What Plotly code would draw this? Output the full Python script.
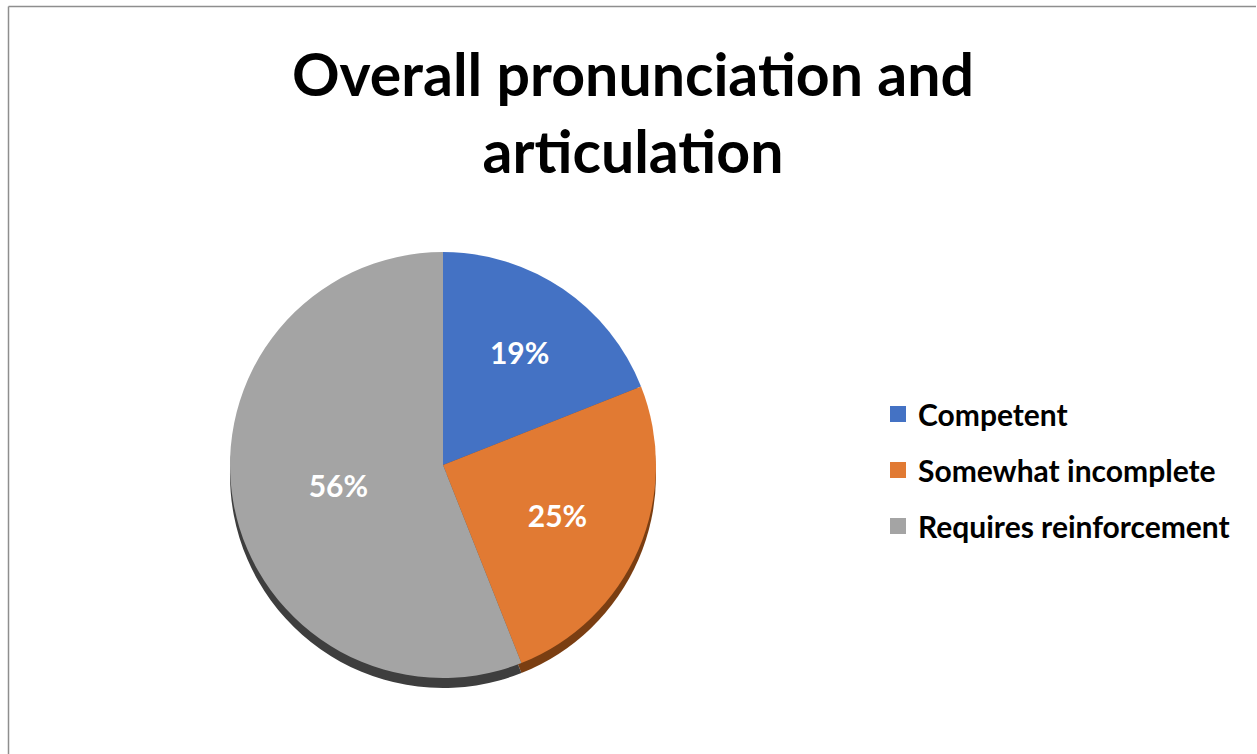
import plotly.graph_objects as go

# Survey results: overall pronunciation and articulation
categories = ["Competent", "Somewhat incomplete", "Requires reinforcement"]
shares = [19, 25, 56]
slice_colors = ["#4472C4", "#E17A33", "#A4A4A4"]
edge_colors = ["#2B4A80", "#7A3E12", "#3E3E3E"]

W, H = 1257, 754
cx, cy, r = 443, 465, 213   # pie centre / radius in pixels (y from top)
depth = 10                  # thickness of the darker rim under the pie


def dom(cx, cy, r):
    return dict(x=[(cx - r) / W, (cx + r) / W],
                y=[(H - cy - r) / H, (H - cy + r) / H])


fig = go.Figure()

# darker copy slightly lower, giving the pie its bottom rim
fig.add_trace(go.Pie(
    labels=categories, values=shares, sort=False, direction="clockwise",
    rotation=0, marker=dict(colors=edge_colors, line=dict(width=0)),
    textinfo="none", hoverinfo="skip", showlegend=False,
    domain=dom(cx, cy + depth, r),
))

fig.add_trace(go.Pie(
    labels=categories, values=shares, sort=False, direction="clockwise",
    rotation=0, marker=dict(colors=slice_colors, line=dict(width=0)),
    textinfo="percent", textposition="inside", insidetextorientation="horizontal",
    texttemplate="%{percent:.0%}",
    textfont=dict(family="Lato", size=30, color="white", weight="bold"),
    showlegend=False, domain=dom(cx, cy, r),
))

# legend entries, one per category
for name, col in zip(categories, slice_colors):
    fig.add_trace(go.Scatter(
        x=[None], y=[None], mode="markers", name=name, legendgroup=name,
        marker=dict(symbol="square", size=16, color=col),
    ))

fig.update_layout(
    width=W, height=H,
    margin=dict(l=0, r=0, t=0, b=0),
    paper_bgcolor="white", plot_bgcolor="white",
    annotations=[dict(
        text="<b>Overall pronunciation and<br>articulation</b>",
        xref="paper", yref="paper", x=633 / W, xanchor="center",
        y=1 - 36 / H, yanchor="top", showarrow=False,
        font=dict(family="Lato", size=59, color="black"),
    )],
    legend=dict(
        x=878 / W, xanchor="left", y=(H - 470) / H, yanchor="middle",
        font=dict(family="Lato", size=30, color="black", weight="bold"),
        tracegroupgap=14, itemsizing="trace", bgcolor="rgba(0,0,0,0)",
    ),
    xaxis=dict(visible=False), yaxis=dict(visible=False),
    shapes=[
        dict(type="line", xref="paper", yref="paper",
             x0=8.5 / W, x1=8.5 / W, y0=0, y1=1 - 6.5 / H,
             line=dict(color="#8E8E8E", width=1.5)),
        dict(type="line", xref="paper", yref="paper",
             x0=8.5 / W, x1=1256 / W, y0=1 - 6.5 / H, y1=1 - 6.5 / H,
             line=dict(color="#8E8E8E", width=1.5)),
    ],
)

fig.write_html("out.html")
